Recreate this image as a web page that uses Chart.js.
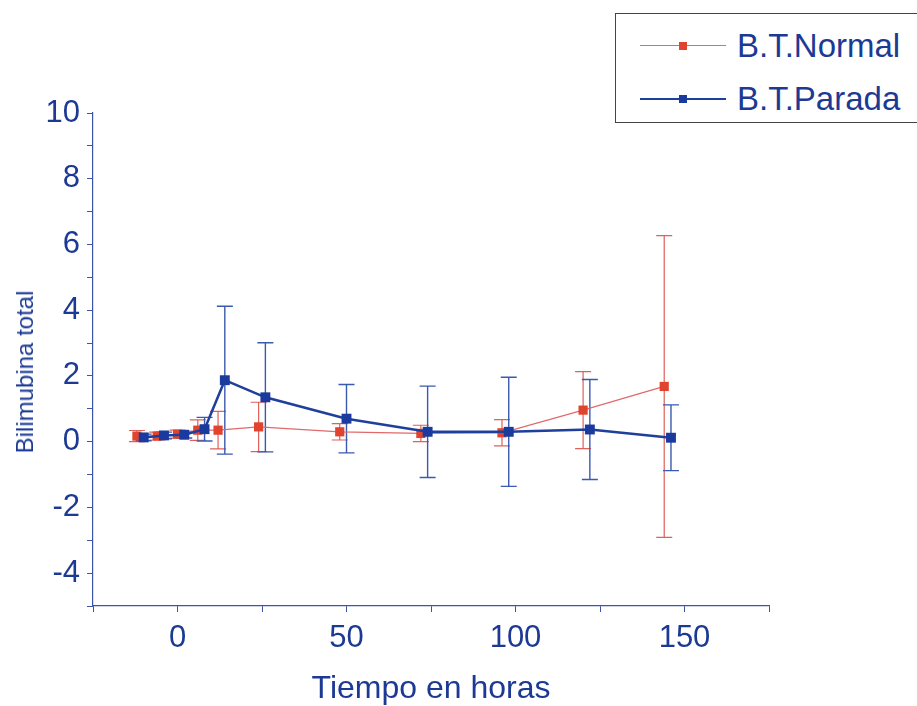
<!DOCTYPE html>
<html>
<head>
<meta charset="utf-8">
<script src="https://cdn.jsdelivr.net/npm/chart.js@4.4.1/dist/chart.umd.min.js"></script>
<style>
    html, body { margin: 0; padding: 0; background: #fff; }
    #wrap { position: relative; width: 917px; height: 706px; overflow: hidden; }
    #legend {
        position: absolute; left: 615px; top: 13px; width: 330px; height: 110px;
        border: 1px solid #444; box-sizing: border-box; background: #fff;
        font-family: 'Liberation Sans', Arial, sans-serif; font-size: 33px; color: #1c3a94;
    }
    .row { position: absolute; left: 24px; height: 38px; display: flex; align-items: center; }
    .row .sample { position: relative; width: 86px; height: 38px; margin-right: 11px; }
    .row .sample .ln { position: absolute; left: 0; right: 0; top: 18px; }
    .row .sample .mk { position: absolute; left: 39px; top: 15px; width: 8px; height: 8px; }
    #ytitle {
        position: absolute; left: 25px; top: 372px; transform: translate(-50%, -50%) rotate(-90deg);
        font-family: 'Liberation Sans', Arial, sans-serif; font-size: 24px; color: #1c3a94; white-space: nowrap;
    }
</style>
</head>
<body>
<div id="wrap">
    <canvas id="chart" width="917" height="706"></canvas>
    <div id="ytitle">Bilimubina total</div>
    <div id="legend">
        <div class="row" style="top:13px">
            <div class="sample"><div class="ln" style="border-top:1px solid #e06a6a"></div><div class="mk" style="background:#e0442e"></div></div>
            <span>B.T.Normal</span>
        </div>
        <div class="row" style="top:66px">
            <div class="sample"><div class="ln" style="border-top:2px solid #1e3f9c"></div><div class="mk" style="background:#1a3a9e"></div></div>
            <span>B.T.Parada</span>
        </div>
    </div>
</div>
<script>
// data
const seriesNames = ['B.T.Normal', 'B.T.Parada'];
const timesNormal = [-12, -6, 0, 6, 12, 24, 48, 72, 96, 120, 144];
const btNormal    = [0.17, 0.17, 0.23, 0.35, 0.35, 0.45, 0.30, 0.25, 0.27, 0.96, 1.68];
const errNormal   = [0.17, 0.12, 0.12, 0.31, 0.57, 0.75, 0.25, 0.25, 0.40, 1.17, 4.59];
const timesParada = [-10, -4, 2, 8, 14, 26, 50, 74, 98, 122, 146];
const btParada    = [0.13, 0.19, 0.21, 0.38, 1.87, 1.35, 0.70, 0.30, 0.30, 0.37, 0.12];
const errParada   = [0.10, 0.10, 0.10, 0.36, 2.25, 1.66, 1.04, 1.39, 1.66, 1.52, 1.00];
const xTicks = [-25, 0, 25, 50, 75, 100, 125, 150, 175];
const xLabels = [0, 50, 100, 150];
const yTicks = [-5, -4, -3, -2, -1, 0, 1, 2, 3, 4, 5, 6, 7, 8, 9, 10];
const yLabels = [-4, -2, 0, 2, 4, 6, 8, 10];

const AXIS = '#3d55a8';
const TEXT = '#1c3a94';
const FONT = "'Liberation Sans', Arial, sans-serif";

const pts = (xs, ys) => xs.map((x, i) => ({ x, y: ys[i] }));

// vertical error bars with caps, drawn from the chart scales
const errorBars = {
    id: 'errorBars',
    beforeDatasetsDraw(chart) {
        const { ctx, scales: { x, y } } = chart;
        chart.data.datasets.forEach(ds => {
            ctx.save();
            ctx.strokeStyle = ds.errColor;
            ctx.lineWidth = ds.errWidth;
            ds.data.forEach((p, i) => {
                const e = ds.errors[i];
                const px = x.getPixelForValue(p.x);
                const top = y.getPixelForValue(p.y + e);
                const bot = y.getPixelForValue(p.y - e);
                ctx.beginPath();
                ctx.moveTo(px, top); ctx.lineTo(px, bot);
                ctx.moveTo(px - 8, top); ctx.lineTo(px + 8, top);
                ctx.moveTo(px - 8, bot); ctx.lineTo(px + 8, bot);
                ctx.stroke();
            });
            ctx.restore();
        });
    }
};

new Chart(document.getElementById('chart'), {
    type: 'line',
    data: {
        datasets: [{
            label: seriesNames[0],
            data: pts(timesNormal, btNormal),
            errors: errNormal,
            errColor: '#e0605a',
            errWidth: 1.2,
            borderColor: '#e06a6a',
            borderWidth: 1.2,
            pointStyle: 'rect',
            pointRadius: 6.5,
            pointBackgroundColor: '#e0442e',
            pointBorderColor: '#e0442e',
            pointBorderWidth: 0,
            tension: 0,
            order: 1
        }, {
            label: seriesNames[1],
            data: pts(timesParada, btParada),
            errors: errParada,
            errColor: '#3a5ab0',
            errWidth: 1.4,
            borderColor: '#1e3f9c',
            borderWidth: 2.5,
            pointStyle: 'rect',
            pointRadius: 7,
            pointBackgroundColor: '#1a3a9e',
            pointBorderColor: '#1a3a9e',
            pointBorderWidth: 0,
            tension: 0,
            order: 0
        }]
    },
    options: {
        responsive: false,
        animation: false,
        layout: { padding: { top: 113, right: 148, left: 0, bottom: 0 } },
        plugins: { legend: { display: false }, tooltip: { enabled: false } },
        scales: {
            x: {
                type: 'linear',
                min: -25, max: 175,
                afterBuildTicks: s => { s.ticks = xTicks.map(v => ({ value: v })); },
                afterFit: s => { s.height = 100; },
                border: { color: AXIS, width: 1.2 },
                grid: { drawOnChartArea: false, tickLength: 6, tickColor: AXIS },
                ticks: {
                    color: TEXT, padding: 8, autoSkip: false, maxRotation: 0,
                    font: { family: FONT, size: 31 },
                    callback: v => xLabels.includes(v) ? String(v) : ''
                },
                title: {
                    display: true, text: 'Tiempo en horas', color: TEXT,
                    font: { family: FONT, size: 32 }, padding: { top: 0, bottom: -2 }
                }
            },
            y: {
                type: 'linear',
                min: -5, max: 10,
                afterBuildTicks: s => { s.ticks = yTicks.map(v => ({ value: v })); },
                afterFit: s => { s.width = 93; },
                border: { color: AXIS, width: 1.2 },
                grid: { drawOnChartArea: false, tickLength: 6, tickColor: AXIS },
                ticks: {
                    color: TEXT, padding: 7, autoSkip: false,
                    font: { family: FONT, size: 31 },
                    callback: v => yLabels.includes(v) ? String(v) : ''
                }
            }
        }
    },
    plugins: [errorBars]
});
</script>
</body>
</html>
